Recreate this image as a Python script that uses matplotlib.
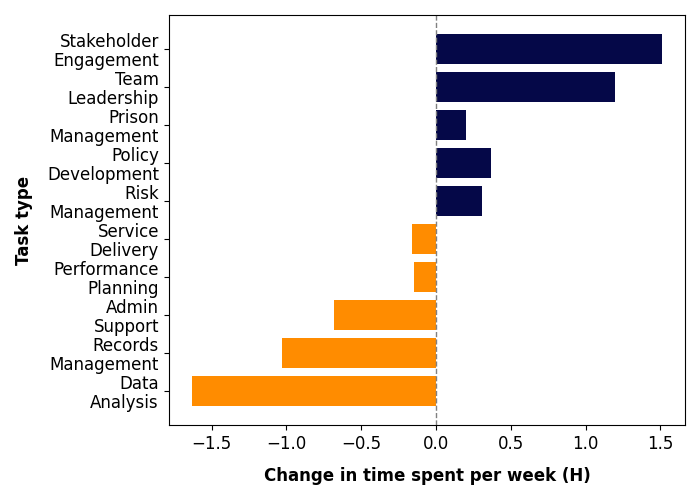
import matplotlib
matplotlib.use("Agg")
import matplotlib.pyplot as plt

categories = ["Stakeholder\nEngagement", "Team\nLeadership", "Prison\nManagement",
              "Policy\nDevelopment", "Risk\nManagement", "Service\nDelivery",
              "Performance\nPlanning", "Admin\nSupport", "Records\nManagement",
              "Data\nAnalysis"]
values = [1.51, 1.20, 0.20, 0.37, 0.31, -0.16, -0.15, -0.68, -1.03, -1.63]

pos_color = "#050848"
neg_color = "#FF8C00"
colors = [pos_color if v >= 0 else neg_color for v in values]

fig, ax = plt.subplots(figsize=(7, 5), dpi=100)
fig.subplots_adjust(left=0.241, right=0.979, top=0.97, bottom=0.15)

ypos = list(range(len(categories)))
ax.barh(ypos, values, color=colors, height=0.8)
ax.set_yticks(ypos)
ax.set_yticklabels(categories, fontsize=12, linespacing=1.05)
ax.invert_yaxis()
ax.axvline(0, color="grey", linestyle="--", linewidth=1)
ax.tick_params(axis="x", labelsize=12)
ax.set_xlabel("Change in time spent per week (H)", fontsize=12, fontweight="bold", labelpad=10)
ax.set_ylabel("Task type", fontsize=12, fontweight="bold", labelpad=10)

fig.savefig("out.png", dpi=100)
